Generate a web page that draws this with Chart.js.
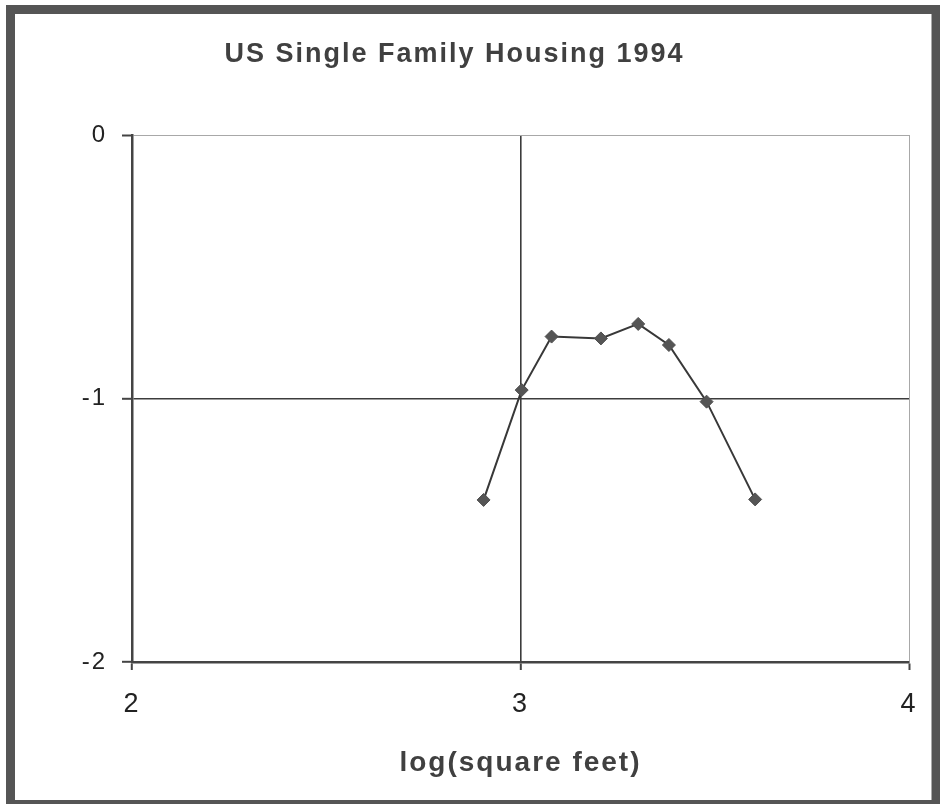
<!DOCTYPE html>
<html>
<head>
<meta charset="utf-8">
<script src="https://cdn.jsdelivr.net/npm/chart.js@4/dist/chart.umd.min.js"></script>
<style>
  html, body { margin: 0; padding: 0; background: #ffffff; }
  #wrap { width: 940px; height: 804px; position: relative; }
</style>
</head>
<body>
<div id="wrap"><canvas id="c" width="940" height="804"></canvas></div>
<script>
const chartTitle = 'US Single Family Housing 1994';
const xAxisTitle = 'log(square feet)';
const logSquareFeet = [2.905, 3.003, 3.080, 3.207, 3.303, 3.382, 3.479, 3.604];
const seriesValues = [-1.385, -0.968, -0.765, -0.772, -0.717, -0.797, -1.012, -1.383];
const xTickValues = [2, 3, 4];
const yTickValues = [0, -1, -2];

const points = logSquareFeet.map((x, i) => ({ x: x, y: seriesValues[i] }));

const FONT = "'Liberation Sans', Arial, Helvetica, sans-serif";

const spacingPlugin = {
  id: 'spacing',
  beforeDraw(chart) {
    const ctx = chart.ctx;
    ctx.save();
    ctx.fillStyle = '#ffffff';
    ctx.fillRect(0, 0, chart.width, chart.height);
    ctx.restore();
    try { ctx.letterSpacing = '2px'; } catch (e) {}
  },
  afterDraw(chart) {
    const ctx = chart.ctx;
    try { ctx.letterSpacing = '0px'; } catch (e) {}
    ctx.save();
    ctx.strokeStyle = '#555555';
    ctx.lineWidth = 9;
    ctx.strokeRect(10.5, 9.5, 925.5, 795);
    ctx.restore();
  }
};

new Chart(document.getElementById('c'), {
  type: 'scatter',
  data: {
    datasets: [{
      data: points,
      showLine: true,
      borderColor: '#383838',
      borderWidth: 2,
      backgroundColor: '#555555',
      pointBackgroundColor: '#555555',
      pointBorderColor: '#505050',
      pointBorderWidth: 1,
      pointStyle: 'rectRot',
      pointRadius: 6.5,
      tension: 0
    }]
  },
  options: {
    responsive: false,
    devicePixelRatio: 1,
    animation: false,
    layout: { padding: { left: 0, right: 31, top: 0, bottom: 0 } },
    plugins: {
      legend: { display: false },
      tooltip: { enabled: false },
      title: {
        display: true,
        text: chartTitle,
        color: '#404040',
        font: { family: FONT, size: 27, weight: 'bold', lineHeight: 1.2 },
        padding: { top: 38, bottom: 64.6 }
      }
    },
    scales: {
      x: {
        type: 'linear',
        min: 2,
        max: 4,
        afterBuildTicks: (s) => { s.ticks = xTickValues.map(v => ({ value: v })); },
        afterFit: (s) => { s.height = 142; },
        ticks: {
          color: '#222222',
          font: { family: FONT, size: 27 },
          padding: 18,
          maxRotation: 0,
          autoSkip: false
        },
        grid: {
          drawOnChartArea: true,
          tickLength: 8,
          tickColor: '#444444',
          tickWidth: 2,
          color: (ctx) => (ctx.tick && ctx.tick.value === 4) ? '#a8a8a8' : '#3c3c3c',
          lineWidth: (ctx) => (ctx.tick && ctx.tick.value === 4) ? 1 : 1.6
        },
        border: { display: true, color: '#444444', width: 2.5 },
        title: {
          display: true,
          text: xAxisTitle,
          color: '#404040',
          font: { family: FONT, size: 28, weight: 'bold', lineHeight: 1.2 },
          padding: { top: 0, bottom: 24 }
        }
      },
      y: {
        type: 'linear',
        min: -2,
        max: 0,
        afterBuildTicks: (s) => { s.ticks = yTickValues.map(v => ({ value: v })); },
        afterFit: (s) => { s.width = 132; },
        ticks: {
          color: '#222222',
          font: { family: FONT, size: 24 },
          padding: 15
        },
        grid: {
          drawOnChartArea: true,
          tickLength: 10,
          tickColor: '#444444',
          tickWidth: 2,
          color: (ctx) => (ctx.tick && ctx.tick.value === 0) ? '#a8a8a8' : '#3c3c3c',
          lineWidth: (ctx) => (ctx.tick && ctx.tick.value === 0) ? 1 : 1.6
        },
        border: { display: true, color: '#444444', width: 2.5 }
      }
    }
  },
  plugins: [spacingPlugin]
});
</script>
</body>
</html>
